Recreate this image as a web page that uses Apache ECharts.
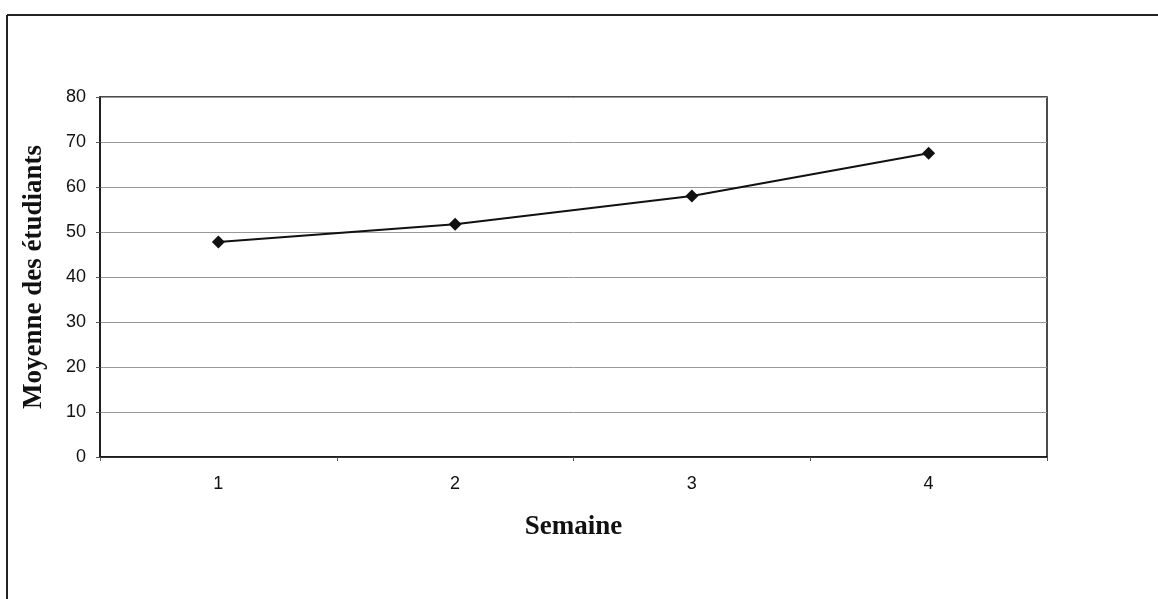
<!DOCTYPE html>
<html>
<head>
<meta charset="utf-8">
<script src="https://cdn.jsdelivr.net/npm/echarts@6/dist/echarts.min.js"></script>
<style>
html,body{margin:0;padding:0;background:#fff;}
#chart{width:1158px;height:599px;}
</style>
</head>
<body>
<div id="chart"></div>
<script>
const categories = ['1', '2', '3', '4'];
const values = [47.8, 51.7, 58.0, 67.5];
const yMin = 0, yMax = 80, yInterval = 10;

const chart = echarts.init(document.getElementById('chart'));
chart.setOption({
  animation: false,
  backgroundColor: '#fff',
  graphic: [
    { type: 'line', shape: { x1: 7, y1: 15, x2: 1158, y2: 15 }, style: { stroke: '#222', lineWidth: 2 } },
    { type: 'line', shape: { x1: 7, y1: 15, x2: 7, y2: 599 }, style: { stroke: '#222', lineWidth: 2 } }
  ],
  grid: { left: 100, right: 111, top: 97, bottom: 142, show: true, borderColor: '#111', borderWidth: 1.5, backgroundColor: 'transparent' },
  xAxis: {
    type: 'category',
    data: categories,
    boundaryGap: true,
    name: 'Semaine',
    nameLocation: 'middle',
    nameGap: 57,
    nameTextStyle: { fontFamily: 'Liberation Serif', fontWeight: 'bold', fontSize: 27, color: '#111' },
    axisLine: { show: true, lineStyle: { color: '#111', width: 1.5 } },
    axisTick: { show: true, length: 4, lineStyle: { color: '#555' } },
    axisLabel: { fontFamily: 'Liberation Sans', fontSize: 18, color: '#111', margin: 18 },
    splitLine: { show: false }
  },
  yAxis: {
    type: 'value',
    min: yMin, max: yMax, interval: yInterval,
    name: 'Moyenne des étudiants',
    nameLocation: 'middle',
    nameGap: 52,
    nameTextStyle: { fontFamily: 'Liberation Serif', fontWeight: 'bold', fontSize: 27, color: '#111' },
    axisLine: { show: true, lineStyle: { color: '#111', width: 1.5 } },
    axisTick: { show: true, length: 4, lineStyle: { color: '#555' } },
    axisLabel: { fontFamily: 'Liberation Sans', fontSize: 18, color: '#111', margin: 14 },
    splitLine: { show: true, lineStyle: { color: '#999', width: 1 } }
  },
  series: [{
    type: 'line',
    data: values,
    symbol: 'diamond',
    symbolSize: 13,
    itemStyle: { color: '#111' },
    lineStyle: { color: '#111', width: 2 }
  }]
});
</script>
</body>
</html>
